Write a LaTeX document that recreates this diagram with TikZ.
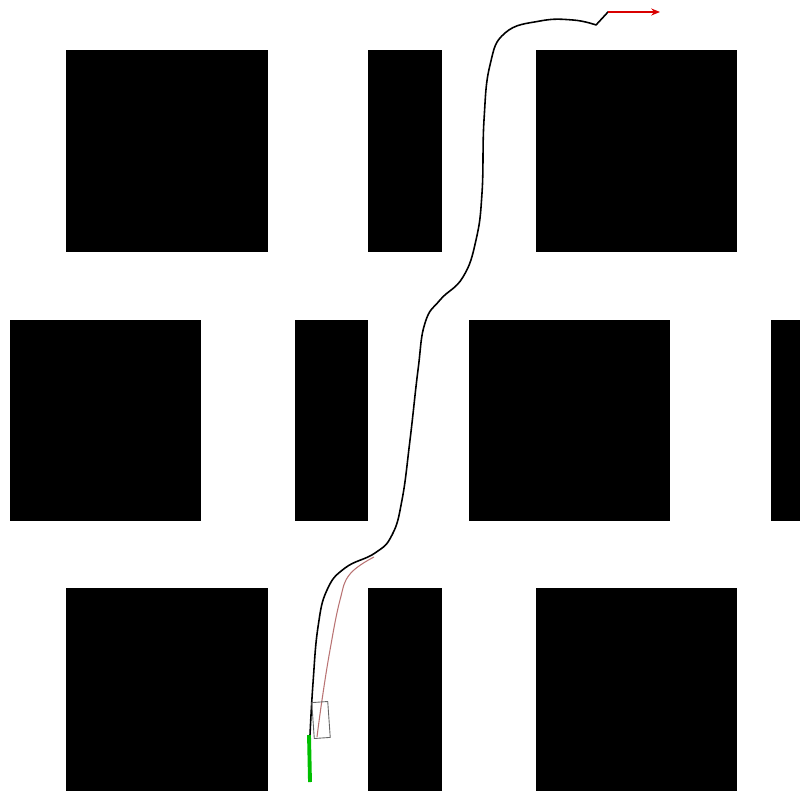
\documentclass[tikz,border=0pt]{standalone}
\usetikzlibrary{arrows.meta}
\tikzset{
  block/.style={fill=black},
  trackline/.style={line width=0.9pt, black, line join=round, line cap=round},
  refline/.style={line width=0.6pt, red!50!black!55, line join=round},
  carbox/.style={draw=black!60, line width=0.5pt},
  startline/.style={line width=2.2pt, green!75!black},
  goalarrow/.style={line width=1.2pt, red!85!black, -{Stealth[length=5pt,width=4pt]}}
}
\begin{document}
\begin{tikzpicture}[x=0.02cm, y=-0.02cm]
\fill[white] (0,0) rectangle (800,791);
\useasboundingbox (0,0) rectangle (800,791);
% row 1
\fill[block] (66,50) rectangle (268,252);
\fill[block] (368,50) rectangle (442,252);
\fill[block] (536,50) rectangle (737,252);
% row 2
\fill[block] (10,320) rectangle (201,521);
\fill[block] (295,320) rectangle (368,521);
\fill[block] (469,320) rectangle (670,521);
\fill[block] (771,320) rectangle (800,521);
% row 3
\fill[block] (66,588) rectangle (268,791);
\fill[block] (368,588) rectangle (442,791);
\fill[block] (536,588) rectangle (737,791);
% reference (pink) line
\draw[refline] plot[smooth, tension=0.7] coordinates {(317,737) (322,700) (330,650) (340,600) (350,574) (374,557)};
% driven path
\draw[trackline] plot[smooth, tension=0.75] coordinates {(310,735) (313,683) (318,627) (327,590) (345,568) (375,553) (392,535) (402,500) (410,440) (418,370) (425,323) (440,300) (463,277) (476,240) (482,193) (484,120) (490,65) (505,33) (540,21) (573,20) (596,25)} -- (608,12) -- (630,12);
% car box
\draw[carbox, rotate around={4:(321,720)}] (313,702) rectangle (329,738);
% start segment
\draw[startline] (309,735) -- (310,782);
% goal arrow
\coordinate (g0) at (608,12);
\coordinate (g1) at (660,12);
\draw[goalarrow] (g0) -- (g1);
\end{tikzpicture}
\end{document}
